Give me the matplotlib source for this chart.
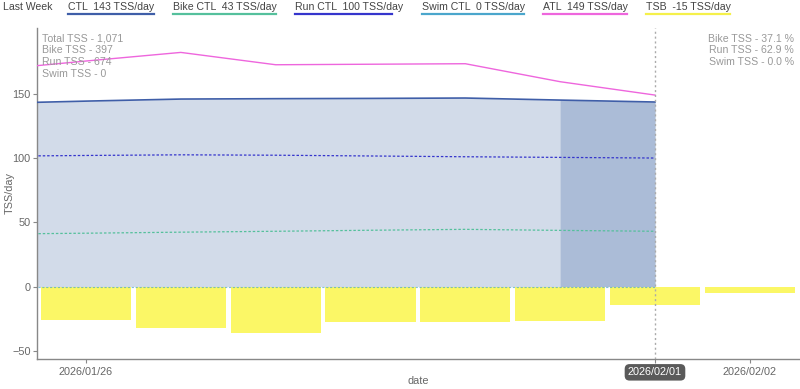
import matplotlib
matplotlib.use("Agg")
import matplotlib.pyplot as plt
import matplotlib.dates as mdates
from matplotlib.lines import Line2D
import pandas as pd

# daily values
days = pd.date_range("2026-01-25", "2026-02-01", freq="D")
ctl = [142.5, 144.3, 145.9, 146.2, 146.4, 146.7, 145.1, 143.6]
atl = [168.5, 175.5, 182.2, 172.6, 173.0, 173.4, 159.4, 149.0]
run_ctl = [101.4, 102.0, 102.5, 102.2, 101.6, 101.0, 100.5, 100.0]
bike_ctl = [40.8, 41.5, 42.3, 43.0, 43.8, 44.5, 43.7, 43.0]
swim_ctl = [0, 0, 0, 0, 0, 0, 0, 0]

tsb_days = pd.date_range("2026-01-26", "2026-02-02", freq="D")
tsb = [-25.8, -32.0, -36.5, -27.3, -27.6, -26.6, -14.6, -5.2]

legend_names = ["CTL  143 TSS/day", "Bike CTL  43 TSS/day", "Run CTL  100 TSS/day",
                "Swim CTL  0 TSS/day", "ATL  149 TSS/day", "TSB  -15 TSS/day"]
legend_x = [68, 173, 295, 422, 543, 646]
legend_w = [86, 103, 97, 102, 84, 84]
left_notes = ["Total TSS - 1,071", "Bike TSS - 397", "Run TSS - 674", "Swim TSS - 0"]
right_notes = ["Bike TSS - 37.1 %", "Run TSS - 62.9 %", "Swim TSS - 0.0 %"]

C_CTL = "#3f5ea8"; C_BIKE = "#55c09c"; C_RUN = "#3535cc"; C_SWIM = "#4aa6cc"
C_ATL = "#ee66dd"; C_TSB = "#fbf766"; FILL = "#d2dbe9"; FILL2 = "#abbcd7"
GREY = "#888888"; TXT = "#666666"; NOTE = "#999999"
colors = [C_CTL, C_BIKE, C_RUN, C_SWIM, C_ATL, "#f5f04a"]
FS = 7.6

plt.rcParams["font.family"] = ["Liberation Sans", "DejaVu Sans"]
W, H = 800, 389
fig = plt.figure(figsize=(8, 3.89), dpi=100)
ax = fig.add_axes([37 / W, 1 - 359 / H, 1 - 37 / W, (359 - 28) / H])

today = pd.Timestamp("2026-02-01")
ax.fill_between(days, ctl, 0, color=FILL, lw=0, zorder=1)
last = days >= pd.Timestamp("2026-01-31")
ax.fill_between(days[last], [c for c, m in zip(ctl, last) if m], 0, color=FILL2, lw=0, zorder=1)

ax.bar(tsb_days, tsb, width=0.95, color=C_TSB, zorder=2)

ax.plot(days, swim_ctl, color=C_SWIM, lw=0.8, ls=(0, (2, 1.5)), alpha=0.7, zorder=3)
ax.plot(days, bike_ctl, color=C_BIKE, lw=0.9, ls=(0, (2, 1.5)), zorder=3)
ax.plot(days, run_ctl, color=C_RUN, lw=0.9, ls=(0, (2, 1.5)), zorder=3)
ax.plot(days, ctl, color=C_CTL, lw=1.2, zorder=4)
ax.plot(days, atl, color=C_ATL, lw=1.0, zorder=4)

ax.axvline(today, color="#aaaaaa", lw=1, ls=(0, (1.5, 2)), zorder=5)

ax.set_xlim(pd.Timestamp("2026-01-26") - pd.Timedelta(hours=12.4),
            pd.Timestamp("2026-02-02") + pd.Timedelta(hours=12.7))
ax.set_ylim(-56.4, 201.2)
ax.set_yticks([-50, 0, 50, 100, 150])
ticks = [pd.Timestamp("2026-01-26"), today, pd.Timestamp("2026-02-02")]
ax.set_xticks(ticks)
ax.xaxis.set_major_formatter(mdates.DateFormatter("%Y/%m/%d"))
ax.tick_params(colors=GREY, labelcolor=TXT, labelsize=FS + 0.2, length=3, width=0.8)
ax.tick_params(axis="x", pad=3)
ax.tick_params(axis="y", pad=1.5)
for sp in ["top", "right"]:
    ax.spines[sp].set_visible(False)
for sp in ["left", "bottom"]:
    ax.spines[sp].set_color(GREY)
    ax.spines[sp].set_linewidth(1)
fig.canvas.draw()
for lab in ax.get_xticklabels():
    if lab.get_text() == "2026/02/01":
        lab.set_color("white")
        lab.set_bbox(dict(boxstyle="round,pad=0.3,rounding_size=0.45", fc="#5a5a5a", ec="none"))

ax.set_ylabel("TSS/day", color=TXT, fontsize=FS + 0.2, va="center")
ax.yaxis.set_label_coords((10 - 37) / 763, 0.5)
ax.set_xlabel("date", color=TXT, fontsize=FS + 0.2, va="center")
ax.xaxis.set_label_coords(0.4993, (359 - 381.5) / 331)

for i, t in enumerate(left_notes):
    fig.text(42 / W, 1 - (38.5 + i * 11.7) / H, t, color=NOTE, fontsize=FS, va="center", ha="left")
for i, t in enumerate(right_notes):
    fig.text(794 / W, 1 - (39 + i * 11.3) / H, t, color=NOTE, fontsize=FS, va="center", ha="right")

# legend strip at the top
fig.text(3 / W, 1 - 7.5 / H, "Last Week", color="#444444", fontsize=FS, va="center", ha="left")
for name, x, w, c in zip(legend_names, legend_x, legend_w, colors):
    fig.text(x / W, 1 - 7.5 / H, name, color="#444444", fontsize=FS, va="center", ha="left")
    fig.add_artist(Line2D([x / W, (x + w) / W], [1 - 13.5 / H] * 2, color=c, lw=1.6))

fig.savefig("out.png", dpi=100, facecolor="white")
